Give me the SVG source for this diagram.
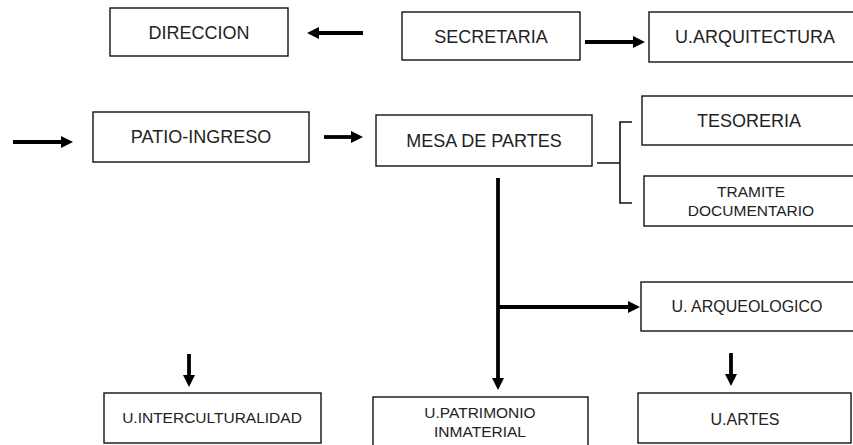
<svg xmlns="http://www.w3.org/2000/svg" width="853" height="445" viewBox="0 0 853 445">
<style>
.box{fill:#fff;stroke:#111;stroke-width:1.4}
.t{font-family:"Liberation Sans",Arial,sans-serif;fill:#222;text-anchor:middle}
.l{font-size:18px}
.m{font-size:16px}
.s{font-size:15.5px}
.arr{stroke:#000;stroke-width:3.8;fill:none;marker-end:url(#ah)}
.thin{stroke:#111;stroke-width:1.6;fill:none}
</style>
<defs>
<marker id="ah" viewBox="0 0 12 12" refX="5" refY="6" markerWidth="12" markerHeight="12" markerUnits="userSpaceOnUse" orient="auto">
<path d="M0,0 L12,6 L0,12 z" fill="#000"/>
</marker>
</defs>
<rect width="853" height="445" fill="#fff"/>
<g id="connectors">
<line class="arr" x1="363" y1="33" x2="314" y2="33"/>
<line class="arr" x1="585" y1="42" x2="638" y2="42"/>
<line class="arr" x1="13" y1="142" x2="66" y2="142"/>
<line class="arr" x1="324" y1="137" x2="356" y2="137"/>
<line class="arr" x1="498" y1="178" x2="498" y2="383"/>
<line class="arr" x1="498" y1="307" x2="633" y2="307"/>
<line class="arr" x1="731" y1="353" x2="731" y2="379"/>
<line class="arr" x1="189" y1="354" x2="189" y2="380"/>
<path class="thin" d="M597,163 H620 M632,122 H620 V203 H632"/>
</g>
<g id="direccion"><rect class="box" x="110" y="8" width="178" height="48"/><text class="t l" x="199" y="39">DIRECCION</text></g>
<g id="secretaria"><rect class="box" x="402" y="12" width="178" height="48"/><text class="t l" x="491" y="43">SECRETARIA</text></g>
<g id="arquitectura"><rect class="box" x="649" y="12" width="220" height="50"/><text class="t l" x="755" y="43">U.ARQUITECTURA</text></g>
<g id="patio"><rect class="box" x="93" y="112" width="216" height="50"/><text class="t l" x="201" y="143">PATIO-INGRESO</text></g>
<g id="mesa"><rect class="box" x="376" y="115" width="216" height="51"/><text class="t l" x="484" y="147">MESA DE PARTES</text></g>
<g id="tesoreria"><rect class="box" x="642" y="96" width="230" height="49"/><text class="t l" x="749" y="127">TESORERIA</text></g>
<g id="tramite"><rect class="box" x="644" y="176" width="230" height="50"/><text class="t s" x="751" y="197">TRAMITE</text><text class="t s" x="751" y="216">DOCUMENTARIO</text></g>
<g id="arqueologico"><rect class="box" x="641" y="282" width="230" height="49"/><text class="t m" x="747" y="312">U. ARQUEOLOGICO</text></g>
<g id="artes"><rect class="box" x="638" y="393" width="213" height="50"/><text class="t m" x="745" y="425">U.ARTES</text></g>
<g id="patrimonio"><rect class="box" x="373" y="397" width="215" height="60"/><text class="t s" x="480" y="418">U.PATRIMONIO</text><text class="t s" x="480" y="437">INMATERIAL</text></g>
<g id="interculturalidad"><rect class="box" x="104" y="393" width="217" height="50"/><text class="t s" x="212" y="423">U.INTERCULTURALIDAD</text></g>
</svg>
